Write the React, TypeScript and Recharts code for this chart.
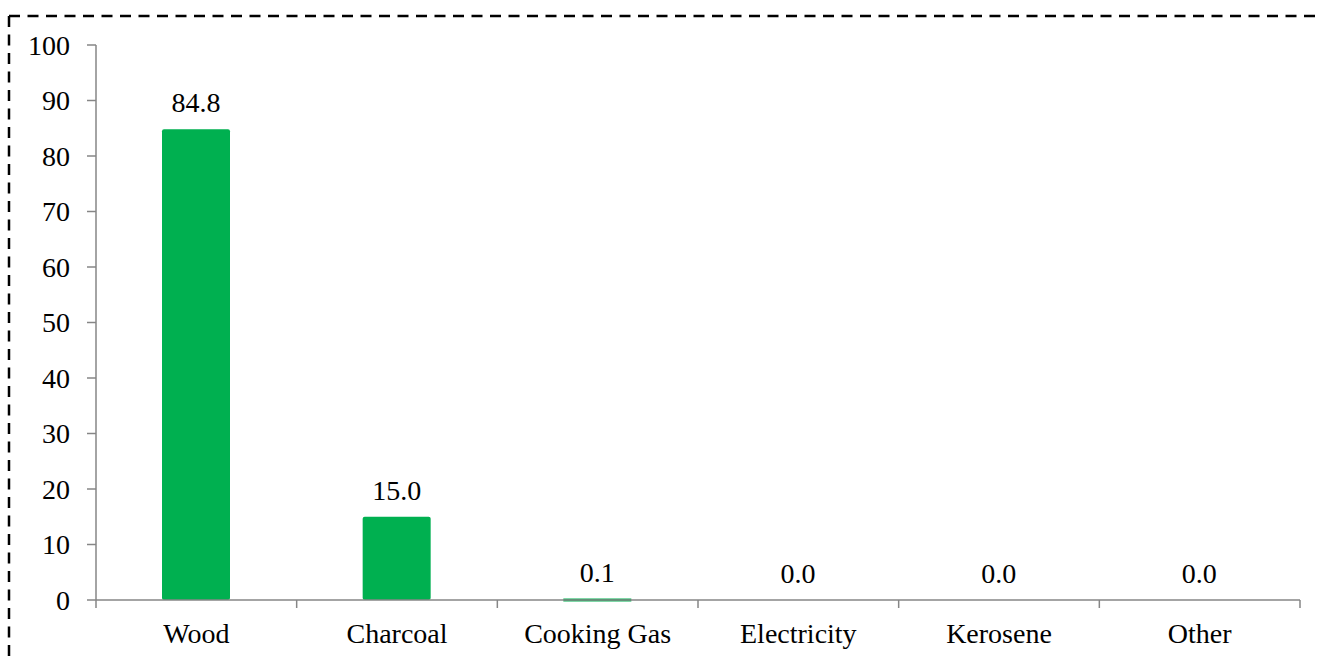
import React from 'react'
import { BarChart, Bar, XAxis, YAxis, LabelList, Rectangle } from 'recharts'

// household cooking fuel, percent of households
const fuels = ['Wood', 'Charcoal', 'Cooking Gas', 'Electricity', 'Kerosene', 'Other']
const shares = [84.8, 15.0, 0.1, 0.0, 0.0, 0.0]
const yTicks = [0, 10, 20, 30, 40, 50, 60, 70, 80, 90, 100]

const data = fuels.map((name, i) => ({ name, value: shares[i] }))

const W = 1319
const H = 659
const axisGrey = '#868686'
const font = 'Liberation Serif'
const textStyle = { fill: '#000', fontSize: 28, fontFamily: font }
const X_TICK = 8
const X_MARGIN = 15

// tiny non-zero values still get a thin visible sliver
const FuelBar = (props: any) => {
  const { x, y, width, height, value } = props
  const v = Array.isArray(value) ? value[1] - value[0] : value
  if (v > 0 && height < 3) {
    return <rect x={x} y={y + height - 1.5} width={width} height={3} fill="#00B050" />
  }
  return <Rectangle {...props} />
}

// category label plus the tick marks on the band edges
const CategoryTick = (props: any) => {
  const { x, y, payload, index, visibleTicksCount } = props
  const half = payload.offset ?? 0
  const axisY = y - X_TICK - X_MARGIN
  const last = index === visibleTicksCount - 1
  return (
    <g>
      <line x1={x - half} y1={axisY} x2={x - half} y2={axisY + X_TICK} stroke={axisGrey} strokeWidth={1.5} />
      {last && (
        <line x1={x + half} y1={axisY} x2={x + half} y2={axisY + X_TICK} stroke={axisGrey} strokeWidth={1.5} />
      )}
      <text x={x} y={y} dy="0.71em" textAnchor="middle" {...textStyle}>
        {payload.value}
      </text>
    </g>
  )
}

export default function App() {
  return (
    <div style={{ position: 'relative', width: W, height: H, overflow: 'hidden', background: '#fff' }}>
      <style>{'body{margin:0}'}</style>
      <BarChart width={W} height={H} data={data} margin={{ top: 45, right: 19, bottom: 19, left: 8 }}>
        <XAxis
          dataKey="name"
          height={40}
          tickLine={false}
          axisLine={{ stroke: axisGrey, strokeWidth: 1.5 }}
          tickSize={X_TICK}
          tickMargin={X_MARGIN}
          interval={0}
          tick={<CategoryTick />}
        />
        <YAxis
          domain={[0, 100]}
          ticks={yTicks}
          width={88}
          tickSize={9}
          tickMargin={17}
          axisLine={{ stroke: axisGrey, strokeWidth: 1.5 }}
          tickLine={{ stroke: axisGrey, strokeWidth: 1.5 }}
          tick={textStyle}
          interval={0}
        />
        <Bar
          dataKey="value"
          fill="#00B050"
          barSize={68}
          radius={[2, 2, 2, 2]}
          shape={FuelBar}
          isAnimationActive={false}
        >
          <LabelList
            dataKey="value"
            position="top"
            offset={17}
            formatter={(v: number) => Number(v).toFixed(1)}
            style={textStyle}
          />
        </Bar>
      </BarChart>
      {/* dashed frame, runs off the right and bottom edges */}
      <svg width={W} height={H} style={{ position: 'absolute', left: 0, top: 0, pointerEvents: 'none' }}>
        <line x1={9} y1={16} x2={W} y2={16} stroke="#000" strokeWidth={2.5} strokeDasharray="11 7.5" />
        <line x1={9} y1={16} x2={9} y2={H} stroke="#000" strokeWidth={2.5} strokeDasharray="11 7.5" />
      </svg>
    </div>
  )
}
